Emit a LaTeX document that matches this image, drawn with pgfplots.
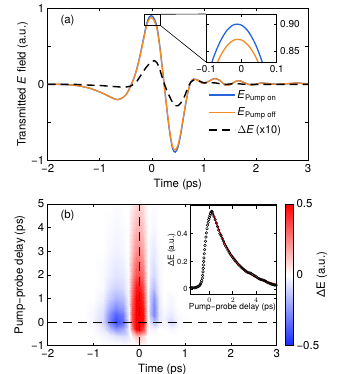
\documentclass[border=0pt]{standalone}
\usepackage{fontspec}
\setmainfont{TeX Gyre Heros}
\usepackage{pgfplots}
\pgfplotsset{compat=1.18}

\definecolor{pon}{RGB}{40,100,220}
\definecolor{poff}{RGB}{245,140,35}

\pgfplotsset{
  base/.style={
    scale only axis, tick align=inside,
    major tick length=3bp,
    axis line style={line width=0.9bp},
    every tick/.style={black, line width=0.6bp},
    tick label style={font=\fontsize{11.5}{13}\selectfont},
    label style={font=\fontsize{11.5}{13}\selectfont},
  },
}

\begin{document}
\begin{tikzpicture}[x=1bp,y=1bp]

% ---------- (a) transmitted field ----------
\begin{axis}[base,
  at={(47.7bp,213.3bp)}, anchor=south west,
  width=260.3bp, height=152.7bp,
  xmin=-2, xmax=3, ymin=-1, ymax=1,
  xtick={-2,-1,0,1,2,3}, xticklabels={−2,−1,0,1,2,3},
  ytick={-1,-0.5,0,0.5,1}, yticklabels={−1,,0,,1},
  xlabel={Time (ps)},
  ylabel={Transmitted \textit{E}\,\,field (a.u.)},
  ylabel style={at={(axis description cs:-0.096,0.5)}, anchor=center},
  legend style={draw=none, fill=none, inner sep=0pt,
    at={(axis description cs:0.615,0.475)}, anchor=north west,
    font=\fontsize{11}{13}\selectfont, row sep=4bp, cells={anchor=west}},
  legend image code/.code={\draw[#1] (0bp,0bp) -- (26bp,0bp);},
]
\addplot[pon, line width=1.3bp, smooth] coordinates {
  (-2,0) (-1.8,0) (-1.6,-0.005) (-1.4,-0.02) (-1.2,-0.05) (-1.0,-0.1)
  (-0.9,-0.13) (-0.8,-0.165) (-0.7,-0.195) (-0.65,-0.2) (-0.6,-0.19)
  (-0.55,-0.17) (-0.5,-0.14) (-0.45,-0.085) (-0.4,-0.01) (-0.35,0.07)
  (-0.3,0.174) (-0.25,0.308) (-0.2,0.463) (-0.15,0.629) (-0.1,0.794)
  (-0.05,0.880) (0,0.898) (0.05,0.853) (0.1,0.75) (0.15,0.52) (0.2,0.228)
  (0.25,-0.081) (0.3,-0.39) (0.35,-0.657) (0.4,-0.844) (0.45,-0.888)
  (0.5,-0.828) (0.55,-0.675) (0.6,-0.47) (0.65,-0.262) (0.7,-0.083)
  (0.75,0.033) (0.8,0.069) (0.85,0.066) (0.9,0.05) (0.95,0.022) (1.0,0.016)
  (1.1,0.042) (1.2,0.077) (1.3,0.055) (1.4,-0.005) (1.45,-0.013)
  (1.5,-0.005) (1.6,0.035) (1.65,0.048) (1.7,0.045) (1.8,0.015)
  (1.9,-0.008) (2.0,0.0) (2.1,0.018) (2.2,0.012) (2.4,0.002) (2.6,0.008)
  (2.8,0.018) (2.9,0.01) (3.0,0.008)
};
\addlegendentry{\textit{E}\textsubscript{Pump on}}
\addplot[poff, line width=1.3bp, smooth] coordinates {
  (-2,0) (-1.8,0) (-1.6,-0.005) (-1.4,-0.02) (-1.2,-0.05) (-1.0,-0.1)
  (-0.9,-0.13) (-0.8,-0.165) (-0.7,-0.195) (-0.65,-0.2) (-0.6,-0.19)
  (-0.55,-0.17) (-0.5,-0.14) (-0.45,-0.085) (-0.4,-0.01) (-0.35,0.07)
  (-0.3,0.17) (-0.25,0.3) (-0.2,0.45) (-0.15,0.61) (-0.1,0.77)
  (-0.05,0.852) (0,0.871) (0.05,0.827) (0.1,0.722) (0.15,0.5) (0.2,0.22)
  (0.25,-0.08) (0.3,-0.38) (0.35,-0.64) (0.4,-0.82) (0.45,-0.86)
  (0.5,-0.8) (0.55,-0.65) (0.6,-0.45) (0.65,-0.25) (0.7,-0.08)
  (0.75,0.03) (0.8,0.065) (0.85,0.062) (0.9,0.045) (0.95,0.02) (1.0,0.014)
  (1.1,0.04) (1.2,0.075) (1.3,0.055) (1.4,-0.005) (1.45,-0.013)
  (1.5,-0.005) (1.6,0.035) (1.65,0.048) (1.7,0.045) (1.8,0.015)
  (1.9,-0.008) (2.0,0.0) (2.1,0.018) (2.2,0.012) (2.4,0.002) (2.6,0.008)
  (2.8,0.018) (2.9,0.01) (3.0,0.008)
};
\addlegendentry{\textit{E}\textsubscript{Pump off}}
\addplot[black, line width=1.4bp, dash pattern=on 8bp off 5bp, smooth] coordinates {
  (-2,0) (-1.5,0) (-1.2,-0.01) (-1.0,-0.015) (-0.8,-0.025) (-0.6,-0.035)
  (-0.5,-0.035) (-0.4,-0.02) (-0.3,0.03) (-0.2,0.13) (-0.1,0.23) (0,0.3)
  (0.05,0.31) (0.1,0.28) (0.15,0.2) (0.2,0.09) (0.25,-0.01) (0.3,-0.1)
  (0.35,-0.17) (0.4,-0.24) (0.45,-0.28) (0.5,-0.28) (0.55,-0.25)
  (0.6,-0.2) (0.65,-0.12) (0.7,-0.03) (0.75,0.03) (0.8,0.055) (0.85,0.06)
  (0.9,0.05) (1.0,0.02) (1.2,0.02) (1.4,0.0) (1.6,0.01) (1.8,0.0)
  (2.0,0) (2.5,0) (3.0,0)
};
\addlegendentry{$\Delta$\textit{E}\,(x10)}
\draw[line width=0.7bp] (axis cs:-0.15,0.77) rectangle (axis cs:0.17,0.92);
\end{axis}

\draw[line width=0.6bp] (160.7,359.7) -- (206,360);
\draw[line width=0.6bp] (160.7,348.3) -- (206,312);

% inset of (a)
\begin{axis}[base,
  at={(206bp,312bp)}, anchor=south west,
  width=70.7bp, height=48bp,
  axis background/.style={fill=white},
  xmin=-0.1, xmax=0.1, ymin=0.831, ymax=0.918,
  xtick={-0.1,0,0.1}, xticklabels={−0.1,0,0.1},
  ytick={0.85,0.9}, yticklabels={0.85,0.90},
  yticklabel pos=right,
  tick label style={font=\fontsize{10}{12}\selectfont},
]
\addplot[pon, line width=1.3bp, smooth] coordinates {
  (-0.1,0.794) (-0.08,0.837) (-0.06,0.868) (-0.04,0.889) (-0.02,0.899)
  (0,0.898) (0.02,0.886) (0.04,0.863) (0.06,0.829) (0.08,0.784) (0.1,0.728)
};
\addplot[poff, line width=1.3bp, smooth] coordinates {
  (-0.1,0.772) (-0.08,0.811) (-0.06,0.841) (-0.04,0.861) (-0.02,0.871)
  (0,0.871) (0.02,0.861) (0.04,0.841) (0.06,0.811) (0.08,0.772) (0.1,0.722)
};
\end{axis}

% ---------- (b) pump-probe map ----------
\begin{axis}[base,
  at={(47.7bp,28.3bp)}, anchor=south west,
  width=229bp, height=141.7bp,
  xmin=-2, xmax=3, ymin=-1, ymax=5,
  axis on top,
  xtick={-2,-1,0,1,2,3}, xticklabels={−2,−1,0,1,2,3},
  ytick={-1,0,1,2,3,4,5}, yticklabels={−1,0,1,2,3,4,5},
  xlabel={Time (ps)},
  ylabel={Pump−probe delay (ps)},
  ylabel style={at={(axis description cs:-0.121,0.5)}, anchor=center},
  colormap={bwr}{rgb255=(20,40,255) rgb255=(255,255,255) rgb255=(255,0,0)},
  point meta min=-0.5, point meta max=0.5,
  colorbar,
  colorbar shift/.style={xshift=0pt},
  colorbar style={scale only axis, width=8bp,
    at={(parent axis.north east)}, anchor=north west, xshift=8.3bp,
    ytick={-0.5,0,0.5}, yticklabels={−0.5,0,0.5},
    major tick length=0pt,
    axis line style={line width=0.6bp},
    tick label style={font=\fontsize{11.5}{13}\selectfont},
    ylabel={ΔE (a.u.)},
    ylabel style={at={(axis description cs:4.6,0.5)}, anchor=center,
      font=\fontsize{11.5}{13}\selectfont}},
]
\addplot[surf, shader=interp, mesh/cols=21, point meta=explicit] coordinates {
(-2,-1)[0] (-1.2,-1)[0] (-1.0,-1)[0] (-0.8,-1)[0] (-0.65,-1)[0] (-0.5,-1)[0] (-0.35,-1)[0] (-0.25,-1)[0] (-0.15,-1)[0] (-0.08,-1)[0] (0,-1)[0] (0.08,-1)[0] (0.16,-1)[0] (0.24,-1)[0] (0.32,-1)[0] (0.42,-1)[0] (0.55,-1)[0] (0.7,-1)[0] (0.85,-1)[0] (1.1,-1)[0] (3,-1)[0]

(-2,-0.6)[0] (-1.2,-0.6)[0] (-1.0,-0.6)[0] (-0.8,-0.6)[-0.02] (-0.65,-0.6)[-0.04] (-0.5,-0.6)[-0.06] (-0.35,-0.6)[-0.08] (-0.25,-0.6)[-0.06] (-0.15,-0.6)[0.04] (-0.08,-0.6)[0.12] (0,-0.6)[0.14] (0.08,-0.6)[0.08] (0.16,-0.6)[0] (0.24,-0.6)[0] (0.32,-0.6)[0] (0.42,-0.6)[0] (0.55,-0.6)[0] (0.7,-0.6)[0] (0.85,-0.6)[0] (1.1,-0.6)[0] (3,-0.6)[0]

(-2,-0.3)[0] (-1.2,-0.3)[0] (-1.0,-0.3)[-0.01] (-0.8,-0.3)[-0.05] (-0.65,-0.3)[-0.16] (-0.5,-0.3)[-0.25] (-0.35,-0.3)[-0.2] (-0.25,-0.3)[-0.06] (-0.15,-0.3)[0.25] (-0.08,-0.3)[0.5] (0,-0.3)[0.5] (0.08,-0.3)[0.38] (0.16,-0.3)[0.05] (0.24,-0.3)[-0.02] (0.32,-0.3)[-0.03] (0.42,-0.3)[0] (0.55,-0.3)[0] (0.7,-0.3)[-0.02] (0.85,-0.3)[0] (1.1,-0.3)[0] (3,-0.3)[0]

(-2,0)[0] (-1.2,0)[0] (-1.0,0)[-0.02] (-0.8,0)[-0.09] (-0.65,0)[-0.3] (-0.5,0)[-0.42] (-0.35,0)[-0.34] (-0.25,0)[-0.08] (-0.15,0)[0.35] (-0.08,0)[0.6] (0,0)[0.6] (0.08,0)[0.48] (0.16,0)[0.08] (0.24,0)[-0.08] (0.32,0)[-0.15] (0.42,0)[-0.04] (0.55,0)[-0.02] (0.7,0)[-0.09] (0.85,0)[-0.02] (1.1,0)[0] (3,0)[0]

(-2,0.3)[0] (-1.2,0.3)[0] (-1.0,0.3)[-0.02] (-0.8,0.3)[-0.08] (-0.65,0.3)[-0.27] (-0.5,0.3)[-0.37] (-0.35,0.3)[-0.3] (-0.25,0.3)[-0.07] (-0.15,0.3)[0.35] (-0.08,0.3)[0.6] (0,0.3)[0.6] (0.08,0.3)[0.48] (0.16,0.3)[0.08] (0.24,0.3)[-0.14] (0.32,0.3)[-0.28] (0.42,0.3)[-0.06] (0.55,0.3)[-0.02] (0.7,0.3)[-0.05] (0.85,0.3)[-0.01] (1.1,0.3)[0] (3,0.3)[0]

(-2,0.6)[0] (-1.2,0.6)[0] (-1.0,0.6)[-0.01] (-0.8,0.6)[-0.06] (-0.65,0.6)[-0.2] (-0.5,0.6)[-0.27] (-0.35,0.6)[-0.22] (-0.25,0.6)[-0.05] (-0.15,0.6)[0.34] (-0.08,0.6)[0.58] (0,0.6)[0.6] (0.08,0.6)[0.46] (0.16,0.6)[0.07] (0.24,0.6)[-0.14] (0.32,0.6)[-0.28] (0.42,0.6)[-0.05] (0.55,0.6)[-0.01] (0.7,0.6)[-0.03] (0.85,0.6)[0] (1.1,0.6)[0] (3,0.6)[0]

(-2,1)[0] (-1.2,1)[0] (-1.0,1)[0] (-0.8,1)[-0.03] (-0.65,1)[-0.12] (-0.5,1)[-0.17] (-0.35,1)[-0.14] (-0.25,1)[-0.03] (-0.15,1)[0.3] (-0.08,1)[0.55] (0,1)[0.56] (0.08,1)[0.42] (0.16,1)[0.06] (0.24,1)[-0.12] (0.32,1)[-0.24] (0.42,1)[-0.04] (0.55,1)[0] (0.7,1)[-0.02] (0.85,1)[0] (1.1,1)[0] (3,1)[0]

(-2,1.5)[0] (-1.2,1.5)[0] (-1.0,1.5)[0] (-0.8,1.5)[-0.01] (-0.65,1.5)[-0.07] (-0.5,1.5)[-0.1] (-0.35,1.5)[-0.08] (-0.25,1.5)[-0.02] (-0.15,1.5)[0.25] (-0.08,1.5)[0.45] (0,1.5)[0.46] (0.08,1.5)[0.35] (0.16,1.5)[0.05] (0.24,1.5)[-0.08] (0.32,1.5)[-0.15] (0.42,1.5)[-0.03] (0.55,1.5)[0] (0.7,1.5)[0] (0.85,1.5)[0] (1.1,1.5)[0] (3,1.5)[0]

(-2,2)[0] (-1.2,2)[0] (-1.0,2)[0] (-0.8,2)[-0.01] (-0.65,2)[-0.04] (-0.5,2)[-0.06] (-0.35,2)[-0.05] (-0.25,2)[-0.01] (-0.15,2)[0.19] (-0.08,2)[0.34] (0,2)[0.35] (0.08,2)[0.27] (0.16,2)[0.04] (0.24,2)[-0.05] (0.32,2)[-0.09] (0.42,2)[-0.02] (0.55,2)[0] (0.7,2)[0] (0.85,2)[0] (1.1,2)[0] (3,2)[0]

(-2,3)[0] (-1.2,3)[0] (-1.0,3)[0] (-0.8,3)[0] (-0.65,3)[-0.02] (-0.5,3)[-0.03] (-0.35,3)[-0.02] (-0.25,3)[0] (-0.15,3)[0.12] (-0.08,3)[0.22] (0,3)[0.23] (0.08,3)[0.17] (0.16,3)[0.03] (0.24,3)[-0.03] (0.32,3)[-0.05] (0.42,3)[-0.01] (0.55,3)[0] (0.7,3)[0] (0.85,3)[0] (1.1,3)[0] (3,3)[0]

(-2,4)[0] (-1.2,4)[0] (-1.0,4)[0] (-0.8,4)[0] (-0.65,4)[-0.01] (-0.5,4)[-0.02] (-0.35,4)[-0.01] (-0.25,4)[0] (-0.15,4)[0.08] (-0.08,4)[0.14] (0,4)[0.15] (0.08,4)[0.11] (0.16,4)[0.02] (0.24,4)[-0.01] (0.32,4)[-0.02] (0.42,4)[0] (0.55,4)[0] (0.7,4)[0] (0.85,4)[0] (1.1,4)[0] (3,4)[0]

(-2,5)[0] (-1.2,5)[0] (-1.0,5)[0] (-0.8,5)[0] (-0.65,5)[0] (-0.5,5)[-0.01] (-0.35,5)[0] (-0.25,5)[0] (-0.15,5)[0.04] (-0.08,5)[0.08] (0,5)[0.09] (0.08,5)[0.06] (0.16,5)[0.01] (0.24,5)[0] (0.32,5)[-0.01] (0.42,5)[0] (0.55,5)[0] (0.7,5)[0] (0.85,5)[0] (1.1,5)[0] (3,5)[0]
};
\addplot[black, line width=1bp, dash pattern=on 9bp off 6bp] coordinates {(0,-1) (0,5)};
\addplot[black, line width=1bp, dash pattern=on 9bp off 6bp] coordinates {(-2,0) (3,0)};
\end{axis}

% inset of (b)
\begin{axis}[base,
  at={(190bp,79.7bp)}, anchor=south west,
  width=86.7bp, height=88.6bp,
  axis background/.style={fill=white},
  xmin=-1.65, xmax=5.75, ymin=-0.036, ymax=0.6,
  xtick={0,2,4}, ytick={0,0.2,0.4},
  yticklabels={0,0.2,0.4},
  tick label style={font=\fontsize{7.5}{9}\selectfont},
  yticklabel style={xshift=1bp},
  label style={font=\fontsize{8.4}{10}\selectfont},
  xlabel={Pump−probe delay (ps)},
  ylabel={ΔE (a.u.)},
  xlabel style={at={(axis description cs:0.49,-0.145)}, anchor=center},
  ylabel style={at={(axis description cs:-0.21,0.5)}, anchor=center},
]
\addplot[black, only marks, mark=o, mark size=1.3bp, mark options={line width=0.5bp}] coordinates {
  (-1.6,0.012) (-1.5,0.01) (-1.4,0.012) (-1.3,0.01) (-1.2,0.013) (-1.1,0.015)
  (-1.0,0.018) (-0.9,0.022) (-0.85,0.026) (-0.8,0.03) (-0.75,0.038)
  (-0.7,0.048) (-0.65,0.062) (-0.6,0.08) (-0.57,0.1) (-0.54,0.125)
  (-0.52,0.15) (-0.5,0.175) (-0.48,0.2) (-0.46,0.225) (-0.43,0.255)
  (-0.4,0.285) (-0.37,0.315) (-0.33,0.345) (-0.29,0.375) (-0.25,0.405)
  (-0.2,0.435) (-0.15,0.46) (-0.1,0.48) (-0.05,0.5) (0,0.515) (0.05,0.53)
  (0.1,0.545) (0.15,0.555) (0.2,0.56) (0.25,0.555) (0.3,0.54) (0.4,0.52)
  (0.5,0.5) (0.6,0.475) (0.7,0.45) (0.8,0.425) (0.9,0.40) (1.0,0.385)
  (1.1,0.365) (1.2,0.345) (1.3,0.325) (1.4,0.31) (1.5,0.295) (1.6,0.28)
  (1.7,0.265) (1.8,0.25) (1.9,0.24) (2.0,0.228) (2.1,0.217) (2.2,0.205)
  (2.3,0.195) (2.4,0.185) (2.5,0.176) (2.6,0.168) (2.7,0.16) (2.8,0.152)
  (2.9,0.145) (3.0,0.138) (3.1,0.131) (3.2,0.125) (3.3,0.121) (3.4,0.118)
  (3.5,0.116) (3.6,0.112) (3.7,0.106) (3.8,0.1) (3.9,0.095) (4.0,0.09)
  (4.1,0.084) (4.2,0.078) (4.3,0.074) (4.4,0.07) (4.5,0.068) (4.6,0.065)
  (4.7,0.062) (4.8,0.058) (4.9,0.053) (5.0,0.048) (5.1,0.044) (5.2,0.04)
  (5.3,0.037) (5.4,0.035) (5.5,0.032) (5.6,0.03) (5.7,0.03)
};
\addplot[red, line width=1.2bp, smooth] coordinates {
  (0.3,0.545) (0.5,0.5) (0.75,0.44) (1.0,0.387) (1.25,0.34) (1.5,0.3)
  (1.75,0.264) (2.0,0.232) (2.5,0.18) (3.0,0.14) (3.5,0.108) (4.0,0.085)
  (4.5,0.066) (5.0,0.052) (5.5,0.04) (5.75,0.036)
};
\end{axis}

\node[anchor=west, font=\fontsize{11.5}{13}\selectfont] at (57,353) {(a)};
\node[anchor=west, font=\fontsize{11.5}{13}\selectfont] at (57,158) {(b)};

\pgfresetboundingbox
\path[use as bounding box] (0,0) rectangle (338,374);
\end{tikzpicture}
\end{document}
